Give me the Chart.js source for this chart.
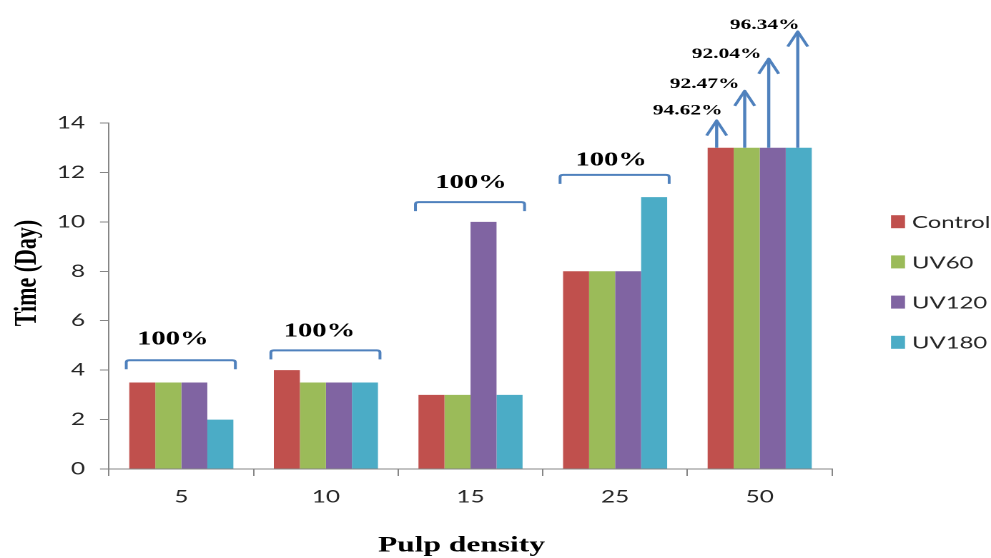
<!DOCTYPE html>
<html>
<head>
<meta charset="utf-8">
<script src="https://cdn.jsdelivr.net/npm/chart.js@4"></script>
<style>
  html, body { margin: 0; padding: 0; background: #fff; overflow: hidden; }
  #c { display: block; }
</style>
</head>
<body>
<!-- the canvas is laid out narrow and widened by CSS, giving the broad letterforms -->
<canvas id="c" width="693" height="558" style="width:991px;height:558px"></canvas>
<script>
// ---- data ----
const categories = ['5', '10', '15', '25', '50'];
const seriesNames = ['Control', 'UV60', 'UV120', 'UV180'];
const controlDays = [3.5, 4, 3, 8, 13];
const uv60Days = [3.5, 3.5, 3, 8, 13];
const uv120Days = [3.5, 3.5, 10, 8, 13];
const uv180Days = [2, 3.5, 3, 11, 13];
const yMax = 14;
const yStep = 2;

// groups covered by one bracket and one removal figure
const bracketCategories = [0, 1, 2, 3];
const bracketLabels = ['100%', '100%', '100%', '100%'];
const bracketLevels = [4.4, 4.8, 10.8, 11.9];

// per-series removal at pulp density 50, shown with arrows
const arrowCategory = 4;
const arrowLabels = ['94.62%', '92.47%', '92.04%', '96.34%'];
const arrowTops = [14.1, 15.3, 16.6, 17.7];

// ---- styling ----
const COLORS = ['#C0504D', '#9BBB59', '#8064A2', '#4BACC6'];
const MARK = '#4F81BD';
const AXIS = '#868686';
const TEXT = '#262626';
const SX = 991 / 693;            // horizontal widening applied by CSS
const h = v => v / SX;           // screen px -> canvas units (horizontal)

const bracketTextDx = [-8, -6, 1, -3.5];
const bracketTextRise = [16, 14, 14, 9.5];
const arrowDx = [-4, -2, -4, -1];
const arrowLabelDx = [-29, -40, -42, -33];
const arrowLabelRise = [6, 2.7, 0.5, 2.7];
const legendTop = 221.7;
const legendGap = 40.2;

const seriesValues = [controlDays, uv60Days, uv120Days, uv180Days];

const annotate = {
  id: 'annotate',
  afterDraw(chart) {
    const { ctx, chartArea, scales: { y } } = chart;
    const metas = seriesNames.map((_, i) => chart.getDatasetMeta(i));
    ctx.save();

    // brackets over whole groups
    ctx.strokeStyle = MARK;
    ctx.lineWidth = 2;
    ctx.lineJoin = 'round';
    bracketCategories.forEach((c, k) => {
      const first = metas[0].data[c];
      const last = metas[metas.length - 1].data[c];
      const x0 = first.x - first.width / 2 - h(3);
      const x1 = last.x + last.width / 2 + h(2);
      const yb = y.getPixelForValue(bracketLevels[k]);
      const drop = 9;
      ctx.beginPath();
      ctx.moveTo(x0, yb + drop);
      ctx.lineTo(x0, yb + 2);
      ctx.quadraticCurveTo(x0, yb, x0 + h(3), yb);
      ctx.lineTo(x1 - h(3), yb);
      ctx.quadraticCurveTo(x1, yb, x1, yb + 2);
      ctx.lineTo(x1, yb + drop);
      ctx.stroke();

      ctx.fillStyle = '#000';
      ctx.font = 'bold 20px "Liberation Serif"';
      ctx.textAlign = 'center';
      ctx.textBaseline = 'alphabetic';
      ctx.fillText(bracketLabels[k], (x0 + x1) / 2 + h(bracketTextDx[k]), yb - bracketTextRise[k]);
    });

    // arrows above the tallest group
    arrowLabels.forEach((lab, i) => {
      const bar = metas[i].data[arrowCategory];
      const ax = bar.x + h(arrowDx[i]);
      const yTop = y.getPixelForValue(arrowTops[i]);
      ctx.strokeStyle = MARK;
      ctx.lineWidth = 2.2;
      ctx.beginPath();
      ctx.moveTo(ax, bar.y);
      ctx.lineTo(ax, yTop);
      ctx.stroke();
      ctx.beginPath();
      ctx.moveTo(ax - h(10), yTop + 15);
      ctx.lineTo(ax, yTop);
      ctx.lineTo(ax + h(10), yTop + 15);
      ctx.stroke();

      ctx.fillStyle = '#000';
      ctx.font = 'bold 15px "Liberation Serif"';
      ctx.textAlign = 'center';
      ctx.textBaseline = 'alphabetic';
      ctx.fillText(lab, ax + h(arrowLabelDx[i]), yTop - arrowLabelRise[i]);
    });

    // legend
    ctx.font = '16.7px Lato';
    ctx.textAlign = 'left';
    ctx.textBaseline = 'middle';
    seriesNames.forEach((name, i) => {
      const cy = legendTop + i * legendGap;
      ctx.fillStyle = COLORS[i];
      ctx.fillRect(h(891), cy - 6.5, h(14), 13);
      ctx.fillStyle = TEXT;
      ctx.fillText(name, h(912), cy + 1);
    });

    // axis titles
    ctx.fillStyle = '#000';
    ctx.font = 'bold 22px "Liberation Serif"';
    ctx.textAlign = 'center';
    ctx.textBaseline = 'alphabetic';
    ctx.fillText('Pulp density', (chartArea.left + chartArea.right) / 2 - h(9), 551.5);
    ctx.save();
    ctx.translate(h(36), (chartArea.top + chartArea.bottom) / 2 - 23);
    ctx.rotate(-Math.PI / 2);
    ctx.fillText('Time (Day)', 0, 0);
    ctx.restore();

    ctx.restore();
  }
};

new Chart(document.getElementById('c'), {
  type: 'bar',
  data: {
    labels: categories,
    datasets: seriesNames.map((name, i) => ({
      label: name,
      data: seriesValues[i],
      backgroundColor: COLORS[i],
      borderWidth: 0,
      barPercentage: 1,
      categoryPercentage: 0.72
    }))
  },
  options: {
    responsive: false,
    devicePixelRatio: 2,
    animation: false,
    layout: { padding: { top: 123, right: 693 - 832 / SX, bottom: 0, left: 0 } },
    plugins: {
      legend: { display: false },
      tooltip: { enabled: false },
      title: { display: false }
    },
    scales: {
      x: {
        grid: { offset: true, drawOnChartArea: false, drawTicks: true, tickLength: 7, color: AXIS },
        border: { color: AXIS, width: 1 },
        ticks: { font: { family: 'Lato', size: 17 }, color: TEXT, padding: 11 },
        afterFit(scale) { scale.height = 558 - 469; }
      },
      y: {
        min: 0,
        max: yMax,
        grid: { drawOnChartArea: false, drawTicks: true, tickLength: 6.3, color: AXIS },
        border: { color: AXIS, width: 1 },
        ticks: { stepSize: yStep, font: { family: 'Lato', size: 17 }, color: TEXT, padding: 10.5 },
        afterFit(scale) { scale.width = 109 / SX; }
      }
    }
  },
  plugins: [annotate]
});
</script>
</body>
</html>
